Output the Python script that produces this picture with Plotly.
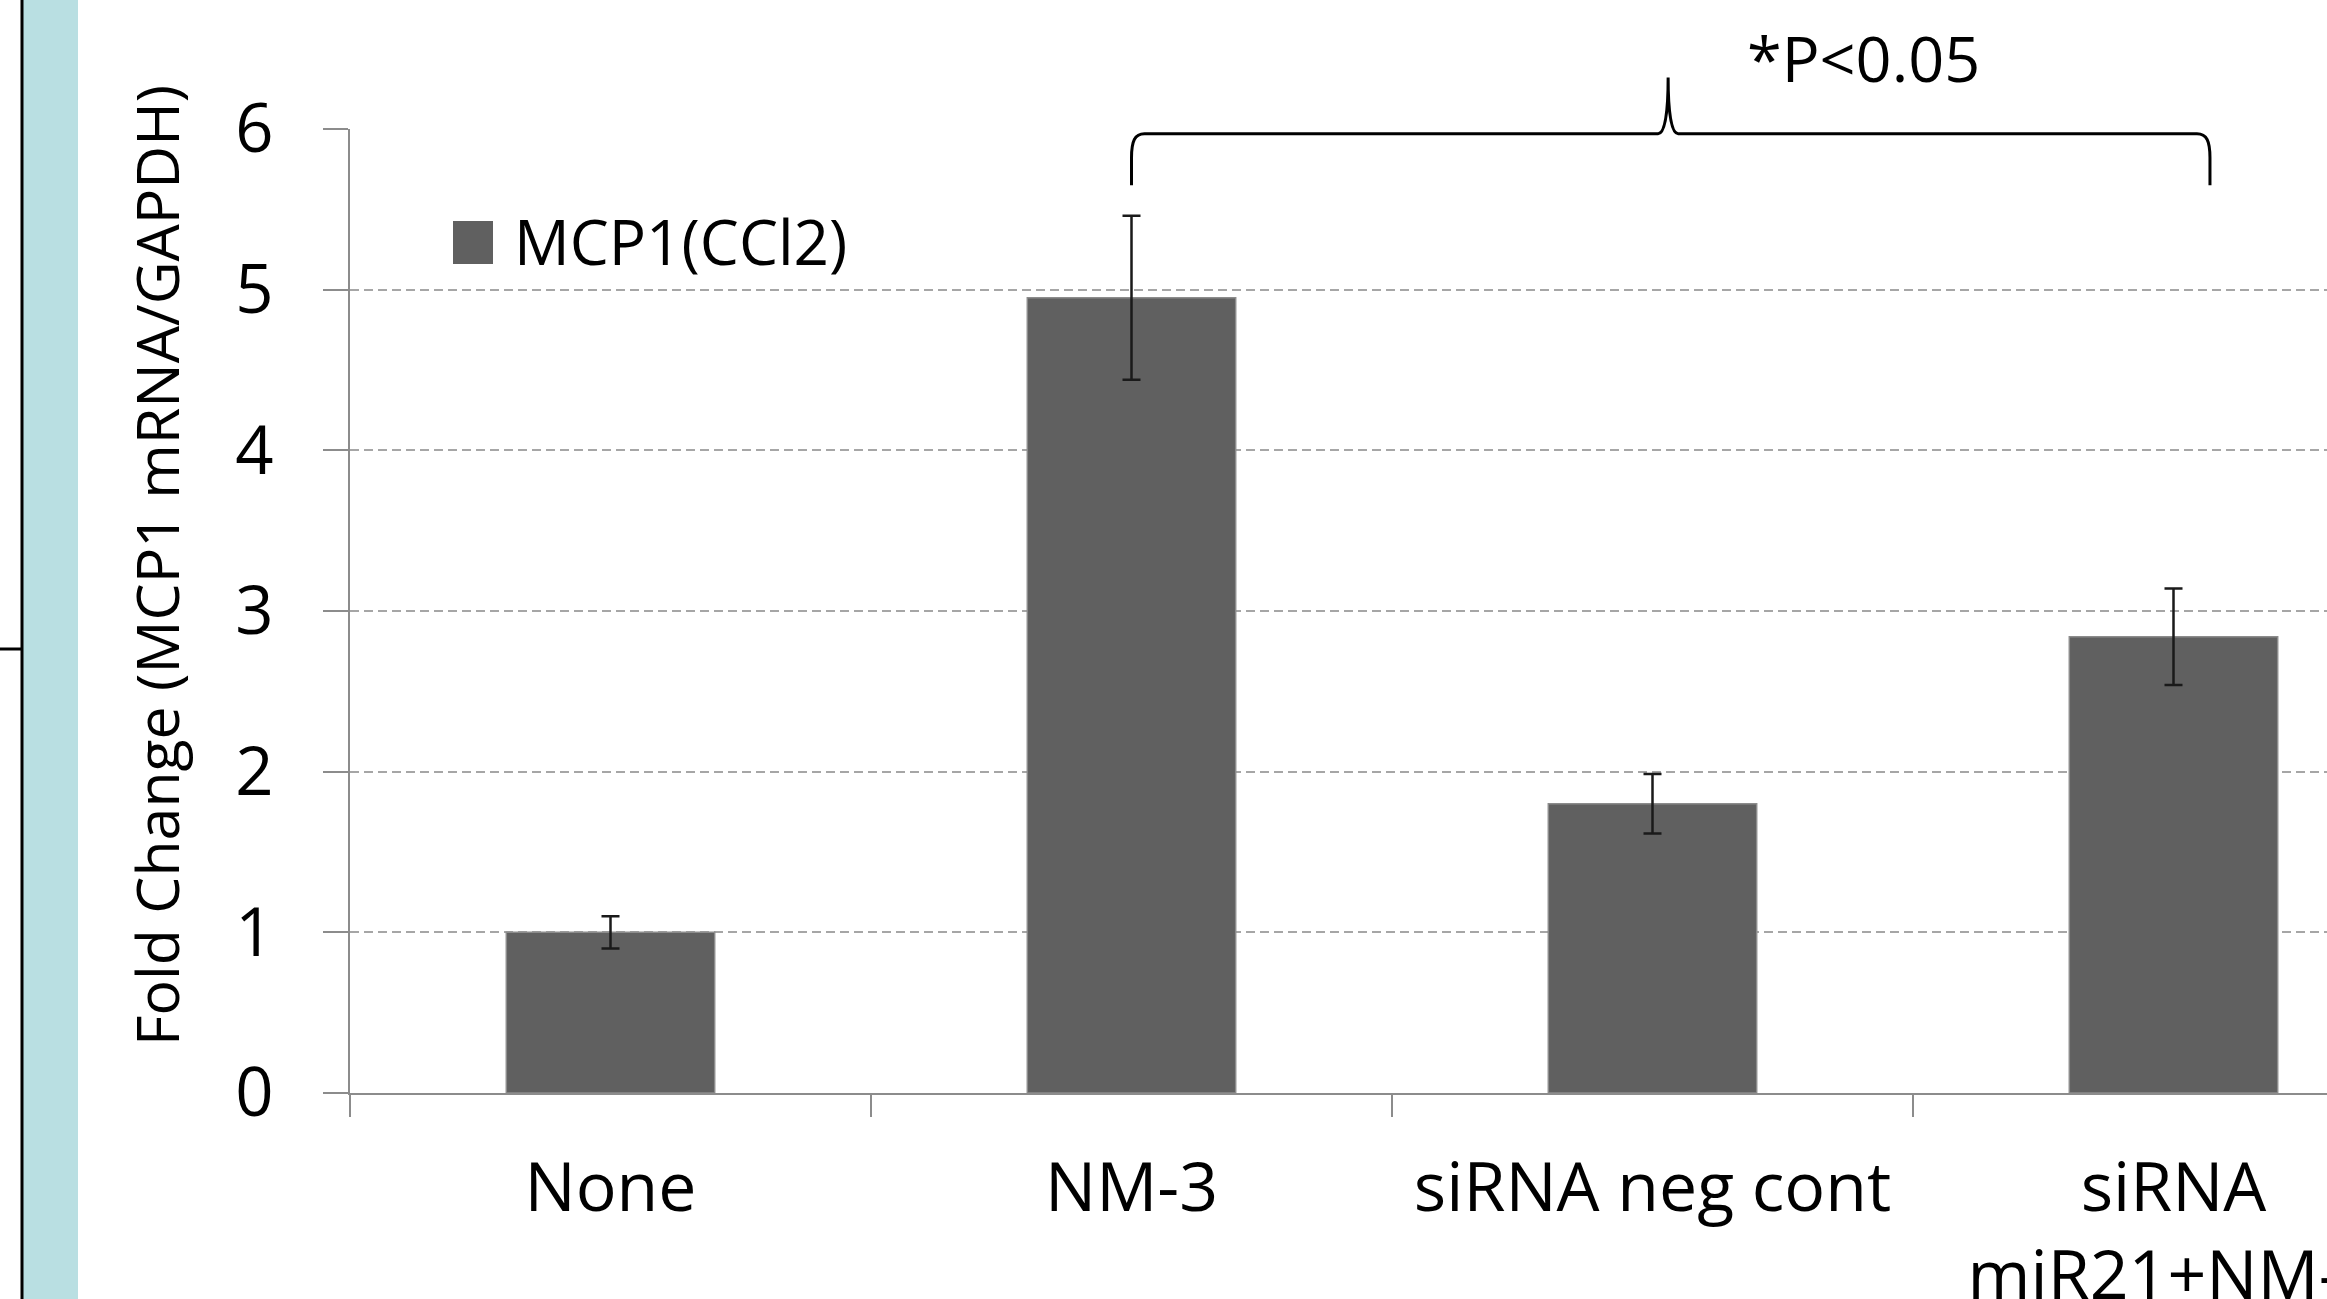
import plotly.graph_objects as go

# ---------------- data ----------------
categories = ["None", "NM-3", "siRNA neg cont", "siRNA<br>miR21+NM-3"]
fold_change = [1.00, 4.95, 1.80, 2.84]
fold_error = [0.10, 0.51, 0.185, 0.30]
series_name = "MCP1(CCl2)"
y_title = "Fold Change (MCP1 mRNA/GAPDH)"
y_ticks = [0, 1, 2, 3, 4, 5, 6]
sig_label = "*P<0.05"
# significance brace (category index / data units)
brace_from, brace_to, brace_apex = 1.0, 3.07, 2.03
brace_level, brace_foot, brace_peak = 5.97, 5.65, 6.32

# ---------------- layout geometry ----------------
W, H = 2327, 1299
ML, MR, MT, MB = 350, 0, 129, 206
PW, PH = W - ML - MR, H - MT - MB
X_LO = -0.5
CAT_PX = 521.0
X_HI = X_LO + PW / CAT_PX
Y_LO, Y_HI = 0, 6
FONT = "Open Sans"
GRAY = "#8c8c8c"


def px_x(p):
    return (p - ML) / PW


def px_y(p):
    return (H - MB - p) / PH


def dx(v):
    return (v - X_LO) / (X_HI - X_LO)


def dy(v):
    return (v - Y_LO) / (Y_HI - Y_LO)


fig = go.Figure()
fig.add_trace(
    go.Bar(
        x=categories,
        y=fold_change,
        name=series_name,
        marker=dict(color="#606060", line=dict(color=GRAY, width=1.5)),
        error_y=dict(type="data", array=fold_error, visible=True,
                     color="#1a1a1a", thickness=2.5, width=9),
        showlegend=False,
    )
)

shapes = []
# left slide decoration
shapes.append(dict(type="rect", xref="paper", yref="paper",
                   x0=px_x(23), x1=px_x(78), y0=px_y(H + 5), y1=px_y(-5),
                   fillcolor="#b9dfe2", line=dict(width=0), layer="below"))
shapes.append(dict(type="line", xref="paper", yref="paper",
                   x0=px_x(22), x1=px_x(22), y0=px_y(H + 5), y1=px_y(-5),
                   line=dict(color="black", width=3)))
shapes.append(dict(type="line", xref="paper", yref="paper",
                   x0=px_x(-5), x1=px_x(22), y0=px_y(649), y1=px_y(649),
                   line=dict(color="black", width=3)))

# legend swatch
shapes.append(dict(type="rect", xref="paper", yref="paper",
                   x0=px_x(453), x1=px_x(493), y0=px_y(264), y1=px_y(221),
                   fillcolor="#606060", line=dict(width=0)))

# significance brace (paper coordinates derived from data positions)
L, R, M = dx(brace_from), dx(brace_to), dx(brace_apex)
yh, yb, yp = dy(brace_level), dy(brace_foot), dy(brace_peak)
hx = 13 / PW   # corner horizontal extent
vy = 24 / PH   # corner vertical extent
ax = 10 / PW   # apex half width
path = (
    f"M {L},{yb} L {L},{yh - vy} "
    f"C {L},{yh - vy * 0.3} {L + hx * 0.25},{yh} {L + hx},{yh} "
    f"L {M - ax},{yh} "
    f"C {M - ax * 0.3},{yh} {M},{yh + (yp - yh) * 0.4} {M},{yp} "
    f"C {M},{yh + (yp - yh) * 0.4} {M + ax * 0.3},{yh} {M + ax},{yh} "
    f"L {R - hx},{yh} "
    f"C {R - hx * 0.25},{yh} {R},{yh - vy * 0.3} {R},{yh - vy} "
    f"L {R},{yb}"
)
shapes.append(dict(type="path", xref="paper", yref="paper", path=path,
                   line=dict(color="black", width=3)))

annotations = [
    dict(text=y_title, xref="paper", yref="paper", x=px_x(156), y=px_y(566),
         xanchor="center", yanchor="middle", textangle=-90, showarrow=False,
         font=dict(family=FONT, size=59, color="black")),
    dict(text=series_name, xref="paper", yref="paper", x=px_x(512), y=px_y(241),
         xanchor="left", yanchor="middle", showarrow=False,
         font=dict(family=FONT, size=62, color="black")),
    dict(text=sig_label, xref="paper", yref="paper", x=px_x(1863), y=px_y(57),
         xanchor="center", yanchor="middle", showarrow=False,
         font=dict(family=FONT, size=63, color="black")),
]

fig.update_layout(
    template="none",
    width=W, height=H,
    margin=dict(l=ML, r=MR, t=MT, b=MB, pad=0, autoexpand=False),
    paper_bgcolor="white", plot_bgcolor="white",
    font=dict(family=FONT, color="black"),
    bargap=0.6,
    shapes=shapes,
    annotations=annotations,
    xaxis=dict(
        type="category", range=[X_LO, X_HI], automargin=False,
        tickson="boundaries", ticks="outside", ticklen=22, tickwidth=2,
        tickcolor=GRAY, showline=True, linecolor=GRAY, linewidth=2,
        showgrid=False, zeroline=False,
        tickfont=dict(family=FONT, size=68, color="black"),
        ticklabelstandoff=34,
    ),
    yaxis=dict(
        range=[Y_LO, Y_HI], tickvals=y_ticks, automargin=False,
        ticks="outside", ticklen=25, tickwidth=2, tickcolor=GRAY,
        showline=True, linecolor=GRAY, linewidth=2,
        showgrid=True, gridcolor="#a6a6a6", gridwidth=1.5, griddash="9px,5px",
        zeroline=False,
        tickfont=dict(family=FONT, size=67, color="black"),
        ticklabelstandoff=36,
    ),
)

fig.write_html(
    "out.html",
    config={"displayModeBar": False},
    post_script="document.body.style.margin='0';document.body.style.overflow='hidden';",
)
